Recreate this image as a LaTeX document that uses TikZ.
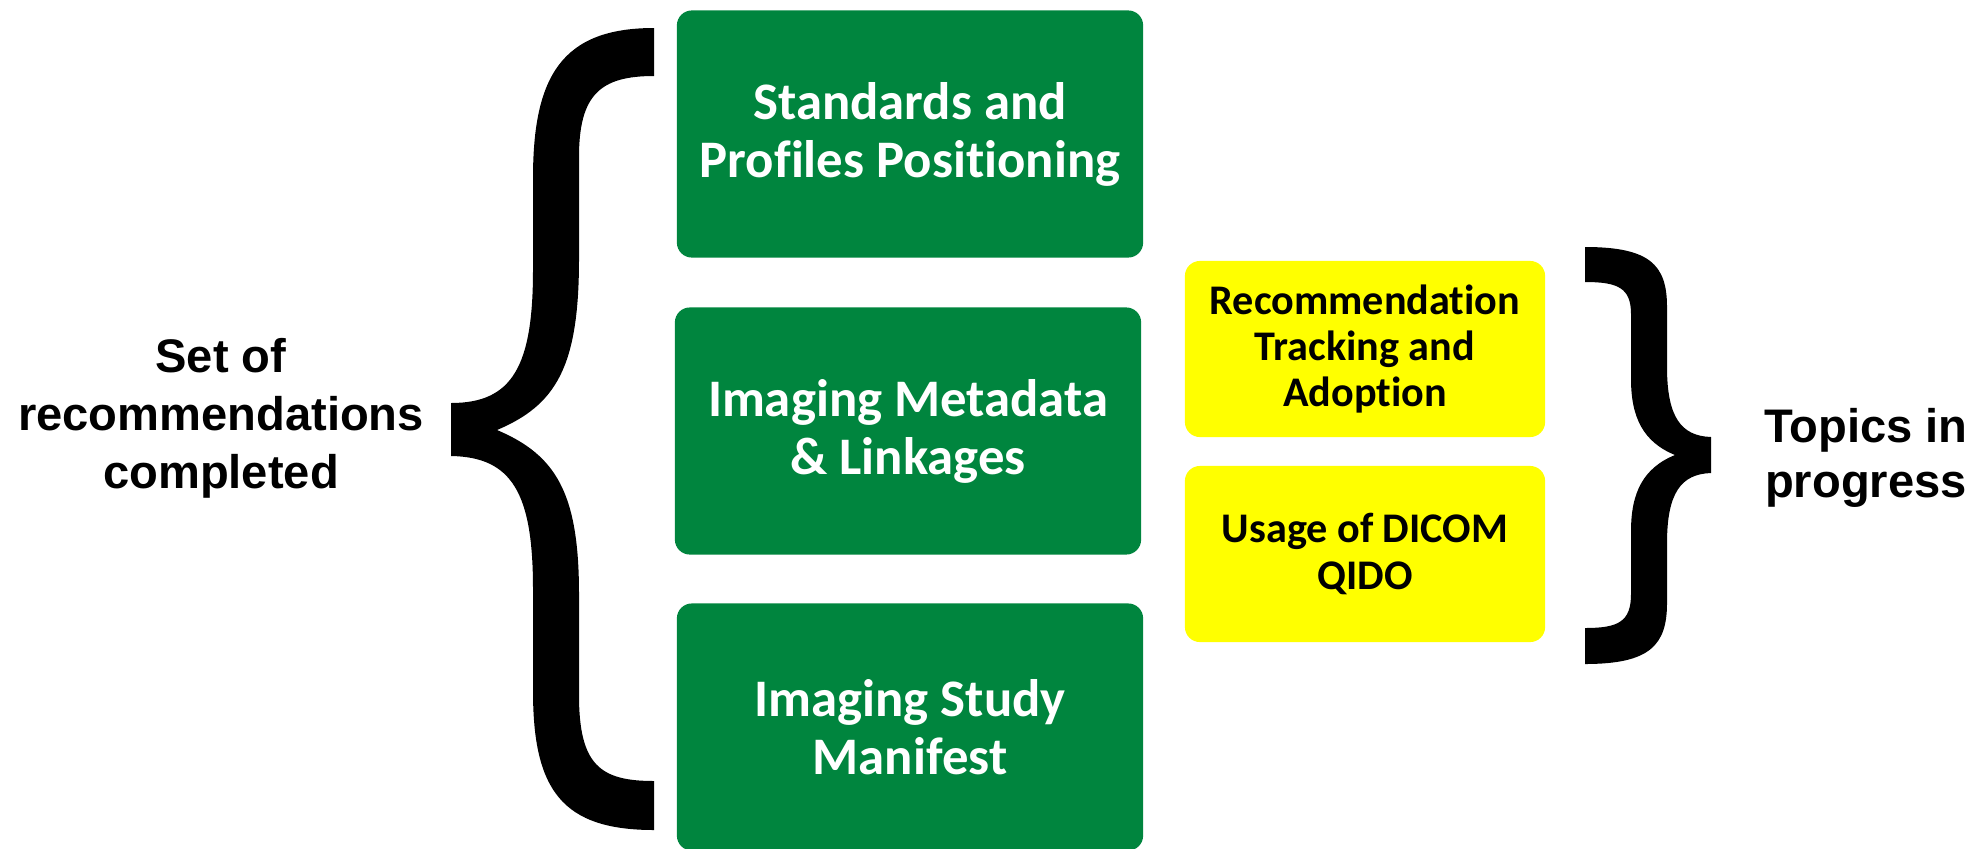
\documentclass[tikz,border=0pt]{standalone}
\usepackage{fontspec}
\newfontfamily\boxfont[Ligatures=CommonOff]{Carlito}
\newfontfamily\sidefont{Liberation Sans}
\definecolor{topicgreen}{RGB}{0,133,62}
\definecolor{topicyellow}{RGB}{255,255,0}
\tikzstyle{done}=[fill=topicgreen,text=white,rounded corners=0.15cm,inner sep=0pt,
	minimum width=4.66cm,minimum height=2.47cm,align=center,
	font=\boxfont\bfseries\fontsize{15}{16.5}\selectfont]
\tikzstyle{open}=[fill=topicyellow,text=black,rounded corners=0.15cm,inner sep=0pt,
	minimum width=3.6cm,minimum height=1.76cm,align=center,
	font=\boxfont\bfseries\fontsize{12}{13.2}\selectfont]
\tikzstyle{side}=[align=center,inner sep=0pt,
	font=\sidefont\bfseries\fontsize{13.4}{16.5}\selectfont]

\begin{document}
\begin{tikzpicture}[x=0.01cm, y=-0.01cm]
	\useasboundingbox (0,0) rectangle (1982,848);
	% finished topics
	\node[done] (std) at (910,134) {Standards and\\Profiles Positioning};
	\node[done] (meta) at (908,431) {Imaging Metadata\\\& Linkages};
	\node[done] (manifest) at (910,727) {Imaging Study\\Manifest};
	% topics still open
	\node[open] (track) at (1365,349) {Recommendation\\Tracking and\\Adoption};
	\node[open] (qido) at (1365,554) {Usage of DICOM\\QIDO};
	% labels
	\node[side] (completed) at (221,418) {Set of\\recommendations\\completed};
	\node[side, font=\sidefont\bfseries\fontsize{13.4}{15.5}\selectfont] (progress) at (1866,458) {Topics in\\progress};
	% braces
	\fill (654,28) .. controls (562,28) and (533,76) .. (533,178) -- (533,270)
		.. controls (533,367) and (512,403) .. (451,403) -- (451,456)
		.. controls (512,457) and (533,493) .. (533,589) -- (533,691)
		.. controls (533,790) and (562,830) .. (654,830) -- (654,781)
		.. controls (600,781) and (579,765) .. (579,695) -- (579,594)
		.. controls (579,493) and (556,455) .. (497,430)
		.. controls (556,405) and (579,367) .. (579,259) -- (579,157)
		.. controls (579,95) and (600,76) .. (654,76) -- cycle;
	\fill (1585,247) .. controls (1650,247) and (1667,265) .. (1667,307) -- (1667,367)
		.. controls (1667,417) and (1681,436) .. (1711,437) -- (1711,473)
		.. controls (1681,474) and (1667,493) .. (1667,543) -- (1667,603)
		.. controls (1667,645) and (1650,664) .. (1585,664) -- (1585,628)
		.. controls (1618,628) and (1631,622) .. (1631,594) -- (1631,531)
		.. controls (1631,493) and (1643,468) .. (1675,455)
		.. controls (1643,442) and (1631,417) .. (1631,379) -- (1631,314)
		.. controls (1631,288) and (1618,282) .. (1585,282) -- cycle;
\end{tikzpicture}
\end{document}
